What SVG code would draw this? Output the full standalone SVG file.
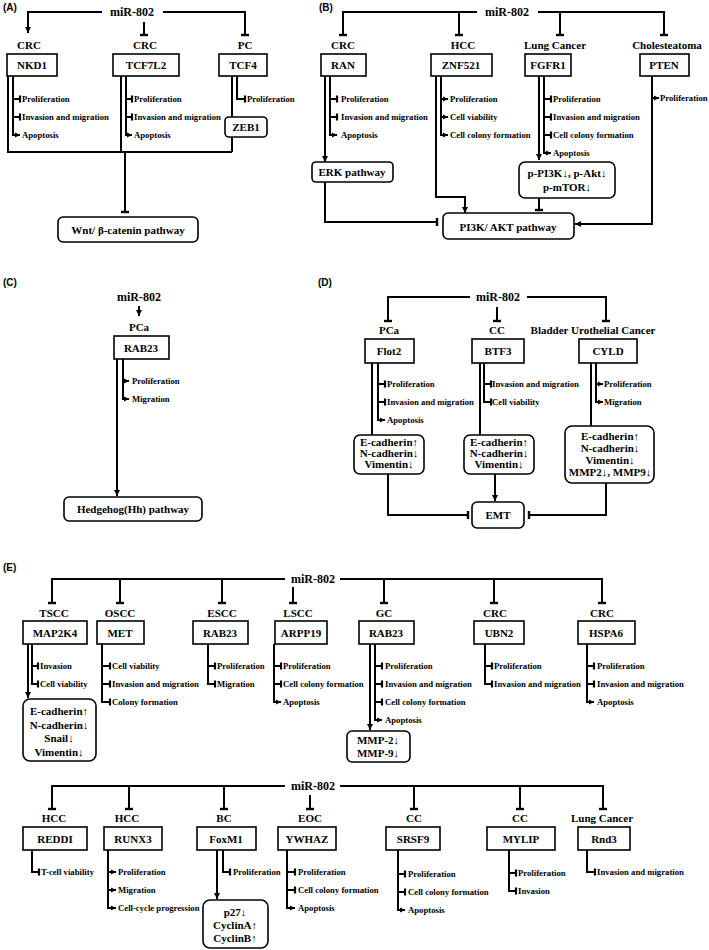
<svg xmlns="http://www.w3.org/2000/svg" width="709" height="950" viewBox="0 0 709 950">
<style>
.ln{fill:none;stroke:#000;stroke-width:2}
.bx{fill:#fff;stroke:#000;stroke-width:1.6}
text{font-family:"Liberation Serif","Times New Roman",serif;font-weight:bold;fill:#000}
.lab{font-size:11px;text-anchor:middle}
.mir{font-size:12px;text-anchor:middle}
.br{font-size:8.7px}
.pl{font-family:"Liberation Sans",Arial,sans-serif;font-size:10px}
.T{marker-end:url(#tee)}
.A{marker-end:url(#arr)}
.t{marker-end:url(#tee2)}
.a{marker-end:url(#arr2)}
</style>
<defs>
<marker id="tee" markerUnits="userSpaceOnUse" viewBox="-3 -6 6 12" markerWidth="6" markerHeight="12" refX="0" refY="0" orient="auto"><path d="M0,-4V4" stroke="#000" stroke-width="2.4"/></marker>
<marker id="tee2" markerUnits="userSpaceOnUse" viewBox="-3 -5 6 10" markerWidth="6" markerHeight="10" refX="0" refY="0" orient="auto"><path d="M0,-3.5V3.5" stroke="#000" stroke-width="2.2"/></marker>
<marker id="arr" markerUnits="userSpaceOnUse" viewBox="-7 -4 8 8" markerWidth="8" markerHeight="8" refX="0" refY="0" orient="auto"><path d="M-6,-3L0,0L-6,3Z" fill="#000"/></marker>
<marker id="arr2" markerUnits="userSpaceOnUse" viewBox="-6 -4 7 8" markerWidth="7" markerHeight="8" refX="0" refY="0" orient="auto"><path d="M-5,-2.6L0,0L-5,2.6Z" fill="#000"/></marker>
</defs>
<rect width="709" height="950" fill="#fff"/>

<g id="panel-labels">
<text class="pl" x="3" y="11">(A)</text>
<text class="pl" x="319" y="11">(B)</text>
<text class="pl" x="3" y="286">(C)</text>
<text class="pl" x="318" y="286">(D)</text>
<text class="pl" x="3" y="571">(E)</text>
</g>

<g id="connectors">
<!-- A -->
<path class="ln A" d="M102,12H28V33"/>
<path class="ln T" d="M144,22V35"/>
<path class="ln T" d="M163,12H245V35"/>
<path class="ln" d="M8,76V152H232"/>
<path class="ln a" d="M13,76V135H20"/>
<path class="ln t" d="M13,99H20"/>
<path class="ln t" d="M13,117H20"/>
<path class="ln" d="M121,76V152"/>
<path class="ln a" d="M126,76V135H132"/>
<path class="ln t" d="M126,99H132"/>
<path class="ln t" d="M126,117H132"/>
<path class="ln" d="M232,76V117M232,137V152"/>
<path class="ln t" d="M237,76V99H245"/>
<path class="ln T" d="M125,152V212"/>
<!-- B -->
<path class="ln T" d="M477,12H343V35"/>
<path class="ln T" d="M459,12V35"/>
<path class="ln T" d="M538,12H664V35"/>
<path class="ln T" d="M560,12V35"/>
<path class="ln A" d="M325,76V162"/>
<path class="ln a" d="M330,76V135H337"/>
<path class="ln t" d="M330,99H337"/>
<path class="ln t" d="M330,117H337"/>
<path class="ln T" d="M325,182V222H437"/>
<path class="ln A" d="M436,76V197H465V213"/>
<path class="ln a" d="M441,76V135H448"/>
<path class="ln a" d="M441,99H448"/>
<path class="ln a" d="M441,117H448"/>
<path class="ln A" d="M539,76V160"/>
<path class="ln a" d="M544,76V153H551"/>
<path class="ln t" d="M544,99H551"/>
<path class="ln t" d="M544,117H551"/>
<path class="ln t" d="M544,135H551"/>
<path class="ln T" d="M539,198V210"/>
<path class="ln A" d="M652,76V224H575"/>
<path class="ln a" d="M652,98H659"/>
<!-- C -->
<path class="ln A" d="M139,306V316"/>
<path class="ln A" d="M117,359V496"/>
<path class="ln a" d="M123,359V399H129"/>
<path class="ln a" d="M123,381H129"/>
<!-- D -->
<path class="ln T" d="M470,297H388V321"/>
<path class="ln T" d="M497,307V321"/>
<path class="ln T" d="M527,297H606V321"/>
<path class="ln" d="M372,363V435"/>
<path class="ln a" d="M378,363V420H385"/>
<path class="ln t" d="M378,384H385"/>
<path class="ln t" d="M378,402H385"/>
<path class="ln" d="M480,363V435"/>
<path class="ln t" d="M484,363V402H491"/>
<path class="ln t" d="M484,384H491"/>
<path class="ln" d="M591,363V426"/>
<path class="ln a" d="M596,363V402H603"/>
<path class="ln a" d="M596,384H603"/>
<path class="ln T" d="M388,474V515H468"/>
<path class="ln A" d="M495,474V501"/>
<path class="ln T" d="M606,483V515H529"/>
<!-- E row 1 -->
<path class="ln T" d="M285,579H52V603"/>
<path class="ln T" d="M120,579V603"/>
<path class="ln T" d="M222,579V603"/>
<path class="ln T" d="M293,587V603"/>
<path class="ln T" d="M340,579H602V603"/>
<path class="ln T" d="M384,579V603"/>
<path class="ln T" d="M494,579V603"/>
<path class="ln A" d="M28,644V698"/>
<path class="ln t" d="M32,644V684H38"/>
<path class="ln t" d="M32,666H38"/>
<path class="ln t" d="M102,644V702H110"/>
<path class="ln t" d="M102,666H110"/>
<path class="ln t" d="M102,684H110"/>
<path class="ln t" d="M208,644V684H215"/>
<path class="ln t" d="M208,666H215"/>
<path class="ln a" d="M274,644V702H281"/>
<path class="ln t" d="M274,666H281"/>
<path class="ln t" d="M274,684H281"/>
<path class="ln A" d="M370,644V730"/>
<path class="ln a" d="M375,644V720H382"/>
<path class="ln t" d="M375,666H382"/>
<path class="ln t" d="M375,684H382"/>
<path class="ln t" d="M375,702H382"/>
<path class="ln t" d="M485,644V684H492"/>
<path class="ln t" d="M485,666H492"/>
<path class="ln a" d="M587,644V702H594"/>
<path class="ln t" d="M587,666H594"/>
<path class="ln t" d="M587,684H594"/>
<!-- E row 2 -->
<path class="ln T" d="M285,786H52V809"/>
<path class="ln T" d="M129,786V809"/>
<path class="ln T" d="M224,786V809"/>
<path class="ln T" d="M310,795V809"/>
<path class="ln T" d="M340,786H603V809"/>
<path class="ln T" d="M414,786V809"/>
<path class="ln T" d="M520,786V809"/>
<path class="ln t" d="M32,850V872H39"/>
<path class="ln a" d="M108,850V908H116"/>
<path class="ln a" d="M108,872H116"/>
<path class="ln a" d="M108,890H116"/>
<path class="ln A" d="M217,850V899"/>
<path class="ln t" d="M223,850V872H230"/>
<path class="ln a" d="M287,850V908H295"/>
<path class="ln t" d="M287,872H295"/>
<path class="ln t" d="M287,890H295"/>
<path class="ln a" d="M398,850V910H405"/>
<path class="ln t" d="M398,874H405"/>
<path class="ln t" d="M398,892H405"/>
<path class="ln t" d="M509,850V891H516"/>
<path class="ln t" d="M509,873H516"/>
<path class="ln t" d="M587,850V872H595"/>
</g>

<!-- Panel A -->
<g id="A-mir"><text class="mir" x="132" y="16">miR-802</text></g>
<g id="A-NKD1"><text class="lab" x="29" y="49">CRC</text><rect class="bx" x="7" y="54" width="50" height="22"/><text class="lab" x="32" y="69">NKD1</text>
<text class="br" x="22" y="102">Proliferation</text><text class="br" x="22" y="120">Invasion and migration</text><text class="br" x="22" y="138">Apoptosis</text></g>
<g id="A-TCF7L2"><text class="lab" x="145" y="49">CRC</text><rect class="bx" x="113" y="54" width="66" height="22"/><text class="lab" x="146" y="69">TCF7L2</text>
<text class="br" x="134" y="102">Proliferation</text><text class="br" x="134" y="120">Invasion and migration</text><text class="br" x="134" y="138">Apoptosis</text></g>
<g id="A-TCF4"><text class="lab" x="245" y="49">PC</text><rect class="bx" x="219" y="54" width="48" height="22"/><text class="lab" x="243" y="69">TCF4</text>
<text class="br" x="247" y="102">Proliferation</text></g>
<g id="A-ZEB1"><rect class="bx" x="225" y="117" width="42" height="20" rx="4"/><text class="lab" x="246" y="131">ZEB1</text></g>
<g id="A-Wnt"><rect class="bx" x="58" y="217" width="140" height="25" rx="5"/><text class="lab" x="128" y="234">Wnt/ β-catenin pathway</text></g>

<!-- Panel B -->
<g id="B-mir"><text class="mir" x="507" y="16">miR-802</text></g>
<g id="B-RAN"><text class="lab" x="343" y="49">CRC</text><rect class="bx" x="321" y="54" width="45" height="22"/><text class="lab" x="343" y="69">RAN</text>
<text class="br" x="341" y="102">Proliferation</text><text class="br" x="341" y="120">Invasion and migration</text><text class="br" x="341" y="138">Apoptosis</text></g>
<g id="B-ZNF521"><text class="lab" x="463" y="49">HCC</text><rect class="bx" x="431" y="54" width="61" height="22"/><text class="lab" x="461" y="69">ZNF521</text>
<text class="br" x="450" y="102">Proliferation</text><text class="br" x="450" y="120">Cell viability</text><text class="br" x="450" y="138">Cell colony formation</text></g>
<g id="B-FGFR1"><text class="lab" x="555" y="49">Lung Cancer</text><rect class="bx" x="525" y="54" width="46" height="22"/><text class="lab" x="548" y="69">FGFR1</text>
<text class="br" x="553" y="102">Proliferation</text><text class="br" x="553" y="120">Invasion and migration</text><text class="br" x="553" y="138">Cell colony formation</text><text class="br" x="553" y="156">Apoptosis</text></g>
<g id="B-PTEN"><text class="lab" x="667" y="49">Cholesteatoma</text><rect class="bx" x="640" y="54" width="49" height="22"/><text class="lab" x="664" y="69">PTEN</text>
<text class="br" x="660" y="101">Proliferation</text></g>
<g id="B-ERK"><rect class="bx" x="312" y="162" width="81" height="20" rx="4"/><text class="lab" x="352" y="176">ERK pathway</text></g>
<g id="B-pPI3K"><rect class="bx" x="519" y="162" width="96" height="36" rx="6"/><text class="lab" x="567" y="177">p-PI3K↓, p-Akt↓</text><text class="lab" x="567" y="191">p-mTOR↓</text></g>
<g id="B-PI3K"><rect class="bx" x="443" y="213" width="131" height="26" rx="5"/><text class="lab" x="508" y="231">PI3K/ AKT pathway</text></g>

<!-- Panel C -->
<g id="C-mir"><text class="mir" x="139" y="301">miR-802</text></g>
<g id="C-RAB23"><text class="lab" x="139" y="331">PCa</text><rect class="bx" x="114" y="336" width="55" height="23"/><text class="lab" x="141" y="352">RAB23</text>
<text class="br" x="132" y="384">Proliferation</text><text class="br" x="132" y="402">Migration</text></g>
<g id="C-Hh"><rect class="bx" x="64" y="497" width="138" height="24" rx="5"/><text class="lab" x="133" y="513">Hedgehog(Hh) pathway</text></g>

<!-- Panel D -->
<g id="D-mir"><text class="mir" x="498" y="301">miR-802</text></g>
<g id="D-Flot2"><text class="lab" x="389" y="334">PCa</text><rect class="bx" x="365" y="339" width="49" height="24"/><text class="lab" x="389" y="355">Flot2</text>
<text class="br" x="387" y="387">Proliferation</text><text class="br" x="387" y="405">Invasion and migration</text><text class="br" x="387" y="423">Apoptosis</text></g>
<g id="D-BTF3"><text class="lab" x="497" y="334">CC</text><rect class="bx" x="472" y="339" width="52" height="24"/><text class="lab" x="498" y="355">BTF3</text>
<text class="br" x="492" y="387">Invasion and migration</text><text class="br" x="492" y="405">Cell viability</text></g>
<g id="D-CYLD"><text class="lab" x="593" y="334">Bladder Urothelial Cancer</text><rect class="bx" x="579" y="339" width="58" height="24"/><text class="lab" x="608" y="355">CYLD</text>
<text class="br" x="604" y="387">Proliferation</text><text class="br" x="604" y="405">Migration</text></g>
<g id="D-box1"><rect class="bx" x="354" y="435" width="70" height="39" rx="6"/><text class="lab" x="389" y="446">E-cadherin↑</text><text class="lab" x="389" y="457">N-cadherin↓</text><text class="lab" x="389" y="468">Vimentin↓</text></g>
<g id="D-box2"><rect class="bx" x="464" y="435" width="70" height="39" rx="6"/><text class="lab" x="499" y="446">E-cadherin↑</text><text class="lab" x="499" y="457">N-cadherin↓</text><text class="lab" x="499" y="468">Vimentin↓</text></g>
<g id="D-box3"><rect class="bx" x="565" y="426" width="89" height="57" rx="7"/><text class="lab" x="610" y="440">E-cadherin↑</text><text class="lab" x="610" y="452">N-cadherin↓</text><text class="lab" x="610" y="464">Vimentin↓</text><text class="lab" x="610" y="476">MMP2↓, MMP9↓</text></g>
<g id="D-EMT"><rect class="bx" x="472" y="502" width="52" height="26" rx="5"/><text class="lab" x="498" y="519">EMT</text></g>

<!-- Panel E row 1 -->
<g id="E1-mir"><text class="mir" x="313" y="583">miR-802</text></g>
<g id="E1-MAP2K4"><text class="lab" x="54" y="617">TSCC</text><rect class="bx" x="23" y="621" width="64" height="23"/><text class="lab" x="55" y="637">MAP2K4</text>
<text class="br" x="40" y="669">Invasion</text><text class="br" x="40" y="687">Cell viability</text></g>
<g id="E1-EMTbox"><rect class="bx" x="23" y="699" width="73" height="62" rx="7"/><text class="lab" x="59" y="715">E-cadherin↑</text><text class="lab" x="59" y="729">N-cadherin↓</text><text class="lab" x="59" y="742">Snail↓</text><text class="lab" x="59" y="756">Vimentin↓</text></g>
<g id="E1-MET"><text class="lab" x="120" y="617">OSCC</text><rect class="bx" x="97" y="621" width="47" height="23"/><text class="lab" x="120" y="637">MET</text>
<text class="br" x="112" y="669">Cell viability</text><text class="br" x="112" y="687">Invasion and migration</text><text class="br" x="112" y="705">Colony formation</text></g>
<g id="E1-RAB23a"><text class="lab" x="222" y="617">ESCC</text><rect class="bx" x="193" y="621" width="55" height="23"/><text class="lab" x="220" y="637">RAB23</text>
<text class="br" x="217" y="669">Proliferation</text><text class="br" x="217" y="687">Migration</text></g>
<g id="E1-ARPP19"><text class="lab" x="298" y="617">LSCC</text><rect class="bx" x="275" y="621" width="52" height="23"/><text class="lab" x="301" y="637">ARPP19</text>
<text class="br" x="283" y="669">Proliferation</text><text class="br" x="283" y="687">Cell colony formation</text><text class="br" x="283" y="705">Apoptosis</text></g>
<g id="E1-RAB23b"><text class="lab" x="384" y="617">GC</text><rect class="bx" x="359" y="621" width="55" height="23"/><text class="lab" x="386" y="637">RAB23</text>
<text class="br" x="385" y="669">Proliferation</text><text class="br" x="385" y="687">Invasion and migration</text><text class="br" x="385" y="705">Cell colony formation</text><text class="br" x="385" y="723">Apoptosis</text></g>
<g id="E1-MMP"><rect class="bx" x="347" y="731" width="63" height="31" rx="5"/><text class="lab" x="378" y="744">MMP-2↓</text><text class="lab" x="378" y="757">MMP-9↓</text></g>
<g id="E1-UBN2"><text class="lab" x="495" y="617">CRC</text><rect class="bx" x="474" y="621" width="50" height="23"/><text class="lab" x="499" y="637">UBN2</text>
<text class="br" x="494" y="669">Proliferation</text><text class="br" x="494" y="687">Invasion and migration</text></g>
<g id="E1-HSPA6"><text class="lab" x="602" y="617">CRC</text><rect class="bx" x="578" y="621" width="57" height="23"/><text class="lab" x="606" y="637">HSPA6</text>
<text class="br" x="597" y="669">Proliferation</text><text class="br" x="597" y="687">Invasion and migration</text><text class="br" x="597" y="705">Apoptosis</text></g>

<!-- Panel E row 2 -->
<g id="E2-mir"><text class="mir" x="313" y="790">miR-802</text></g>
<g id="E2-REDDI"><text class="lab" x="54" y="822">HCC</text><rect class="bx" x="23" y="827" width="64" height="23"/><text class="lab" x="55" y="843">REDDI</text>
<text class="br" x="41" y="875">T-cell viability</text></g>
<g id="E2-RUNX3"><text class="lab" x="127" y="822">HCC</text><rect class="bx" x="104" y="827" width="58" height="23"/><text class="lab" x="133" y="843">RUNX3</text>
<text class="br" x="118" y="875">Proliferation</text><text class="br" x="118" y="893">Migration</text><text class="br" x="118" y="911">Cell-cycle progression</text></g>
<g id="E2-FoxM1"><text class="lab" x="224" y="822">BC</text><rect class="bx" x="197" y="827" width="59" height="23"/><text class="lab" x="226" y="843">FoxM1</text>
<text class="br" x="233" y="875">Proliferation</text></g>
<g id="E2-p27"><rect class="bx" x="203" y="900" width="65" height="48" rx="7"/><text class="lab" x="235" y="916">p27↓</text><text class="lab" x="235" y="929">CyclinA↑</text><text class="lab" x="235" y="942">CyclinB↑</text></g>
<g id="E2-YWHAZ"><text class="lab" x="310" y="822">EOC</text><rect class="bx" x="278" y="827" width="58" height="23"/><text class="lab" x="307" y="843">YWHAZ</text>
<text class="br" x="298" y="875">Proliferation</text><text class="br" x="298" y="893">Cell colony formation</text><text class="br" x="298" y="911">Apoptosis</text></g>
<g id="E2-SRSF9"><text class="lab" x="414" y="822">CC</text><rect class="bx" x="386" y="827" width="54" height="23"/><text class="lab" x="413" y="843">SRSF9</text>
<text class="br" x="408" y="877">Proliferation</text><text class="br" x="408" y="895">Cell colony formation</text><text class="br" x="408" y="913">Apoptosis</text></g>
<g id="E2-MYLIP"><text class="lab" x="520" y="822">CC</text><rect class="bx" x="487" y="827" width="68" height="23"/><text class="lab" x="521" y="843">MYLIP</text>
<text class="br" x="518" y="876">Proliferation</text><text class="br" x="518" y="894">Invasion</text></g>
<g id="E2-Rnd3"><text class="lab" x="602" y="822">Lung Cancer</text><rect class="bx" x="578" y="827" width="52" height="23"/><text class="lab" x="604" y="843">Rnd3</text>
<text class="br" x="597" y="875">Invasion and migration</text></g>
</svg>
